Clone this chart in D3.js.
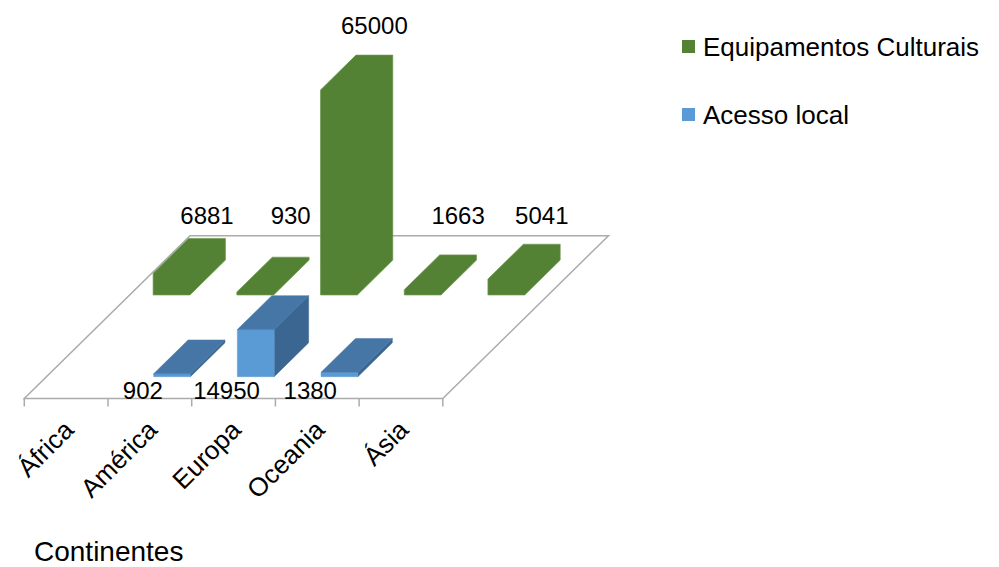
<!DOCTYPE html>
<html>
<head>
<meta charset="utf-8">
<script src="https://cdn.jsdelivr.net/npm/d3@7"></script>
<style>
  html, body { margin: 0; padding: 0; background: #fff; }
  svg { display: block; font-family: "Liberation Sans", Arial, sans-serif; }
</style>
</head>
<body>
<svg id="chart" width="999" height="567"></svg>
<script>
// ---- data ----
const categories = ["África", "América", "Europa", "Oceania", "Ásia"];
const seriesNames = ["Equipamentos Culturais", "Acesso local"];
const equipamentosCulturais = [6881, 930, 65000, 1663, 5041];
const acessoLocal = [null, 902, 14950, 1380, null];
const axisTitle = "Continentes";

// ---- layout ----
const svg = d3.select("#chart");
const floorFrontY = 398.5;
const depthDX = 165.7, depthDY = 162.8;

const x = d3.scaleBand().domain(categories).range([24.3, 442.8]).paddingInner(0).paddingOuter(0);
const h = d3.scaleLinear().domain([0, 65000]).range([0, 205]);
const depth = d3.scaleLinear().domain([0, 1]).range([0, 1]);

function P(xf, t, hh) {
  return [xf + depthDX * depth(t), floorFrontY - depthDY * depth(t) - hh];
}
const floorBackY = P(0, 1, 0)[1];

const colors = {
  green: { front: "#538234", top: "#538234", side: "#538234", solid: true },
  blue: { front: "#5B9BD5", top: "#4676A6", side: "#3B6691", solid: false }
};

const series = [
  { name: seriesNames[0], values: equipamentosCulturais, t0: 0.636, t1: 0.85, col: colors.green, row: "back" },
  { name: seriesNames[1], values: acessoLocal, t0: 0.134, t1: 0.342, col: colors.blue, row: "front" }
];

// floor
const x0 = x.range()[0], x1 = x.range()[1];
const floorPts = [P(x0, 0, 0), P(x1, 0, 0), P(x1, 1, 0), P(x0, 1, 0)];
svg.append("polygon")
  .attr("points", floorPts.map(p => p.join(",")).join(" "))
  .attr("fill", "none").attr("stroke", "#ABABAB").attr("stroke-width", 1.5);

// ticks
const tickXs = categories.map(c => x(c)).concat([x1]);
svg.append("g").selectAll("line").data(tickXs).join("line")
  .attr("x1", d => d).attr("x2", d => d)
  .attr("y1", floorFrontY).attr("y2", floorFrontY + 8)
  .attr("stroke", "#ABABAB").attr("stroke-width", 1.5);

const bw = x.bandwidth();
const half = bw * 0.22;
const poly = pts => pts.map(p => p.join(",")).join(" ");

// bars (back row first)
series.forEach(s => {
  const g = svg.append("g");
  s.values.forEach((v, i) => {
    if (v == null) return;
    const c = x(categories[i]) + bw / 2;
    const xa = c - half, xb = c + half, hh = h(v);
    if (s.col.solid) {
      const outline = [P(xa, s.t0, 0), P(xa, s.t0, hh), P(xa, s.t1, hh), P(xb, s.t1, hh), P(xb, s.t1, 0), P(xb, s.t0, 0)];
      g.append("polygon").attr("points", poly(outline)).attr("fill", s.col.front)
        .attr("stroke", "#6E9A52").attr("stroke-width", 0.7);
      return;
    }
    const front = [P(xa, s.t0, 0), P(xb, s.t0, 0), P(xb, s.t0, hh), P(xa, s.t0, hh)];
    const side = [P(xb, s.t0, 0), P(xb, s.t1, 0), P(xb, s.t1, hh), P(xb, s.t0, hh)];
    const top = [P(xa, s.t0, hh), P(xb, s.t0, hh), P(xb, s.t1, hh), P(xa, s.t1, hh)];
    g.append("polygon").attr("points", poly(side)).attr("fill", s.col.side).attr("stroke", s.col.side).attr("stroke-width", 0.5);
    g.append("polygon").attr("points", poly(front)).attr("fill", s.col.front).attr("stroke", s.col.front).attr("stroke-width", 0.5);
    g.append("polygon").attr("points", poly(top)).attr("fill", s.col.top).attr("stroke", s.col.top).attr("stroke-width", 0.5);
  });
});

// data labels
const lbl = svg.append("g").attr("font-size", 24).attr("fill", "#000").attr("text-anchor", "middle");
series.forEach(s => {
  s.values.forEach((v, i) => {
    if (v == null) return;
    const c = x(categories[i]) + bw / 2;
    let lx, ly;
    if (s.row === "back") {
      const bt = P(c, s.t1, h(v));
      lx = bt[0];
      ly = bt[1] < floorBackY ? bt[1] - 21 : floorBackY - 12;
    } else {
      lx = c - 7;
      ly = floorFrontY + 0.5;
    }
    lbl.append("text").attr("x", lx).attr("y", ly).text(v);
  });
});

// category labels
svg.append("g").attr("font-size", 26).attr("text-anchor", "end")
  .selectAll("text").data(categories).join("text")
  .attr("transform", d => `translate(${x(d) + bw / 2 + 9},${floorFrontY + 33}) rotate(-45)`)
  .text(d => d);

// axis title
svg.append("text").attr("x", 34).attr("y", 561).attr("font-size", 28).text(axisTitle);

// legend
const leg = svg.append("g");
series.forEach((s, i) => {
  const y0 = 40 + i * 68;
  leg.append("rect").attr("x", 682).attr("y", y0).attr("width", 13).attr("height", 13).attr("fill", s.col.front);
  leg.append("text").attr("x", 703).attr("y", y0 + 16).attr("font-size", 26).text(s.name);
});
</script>
</body>
</html>
